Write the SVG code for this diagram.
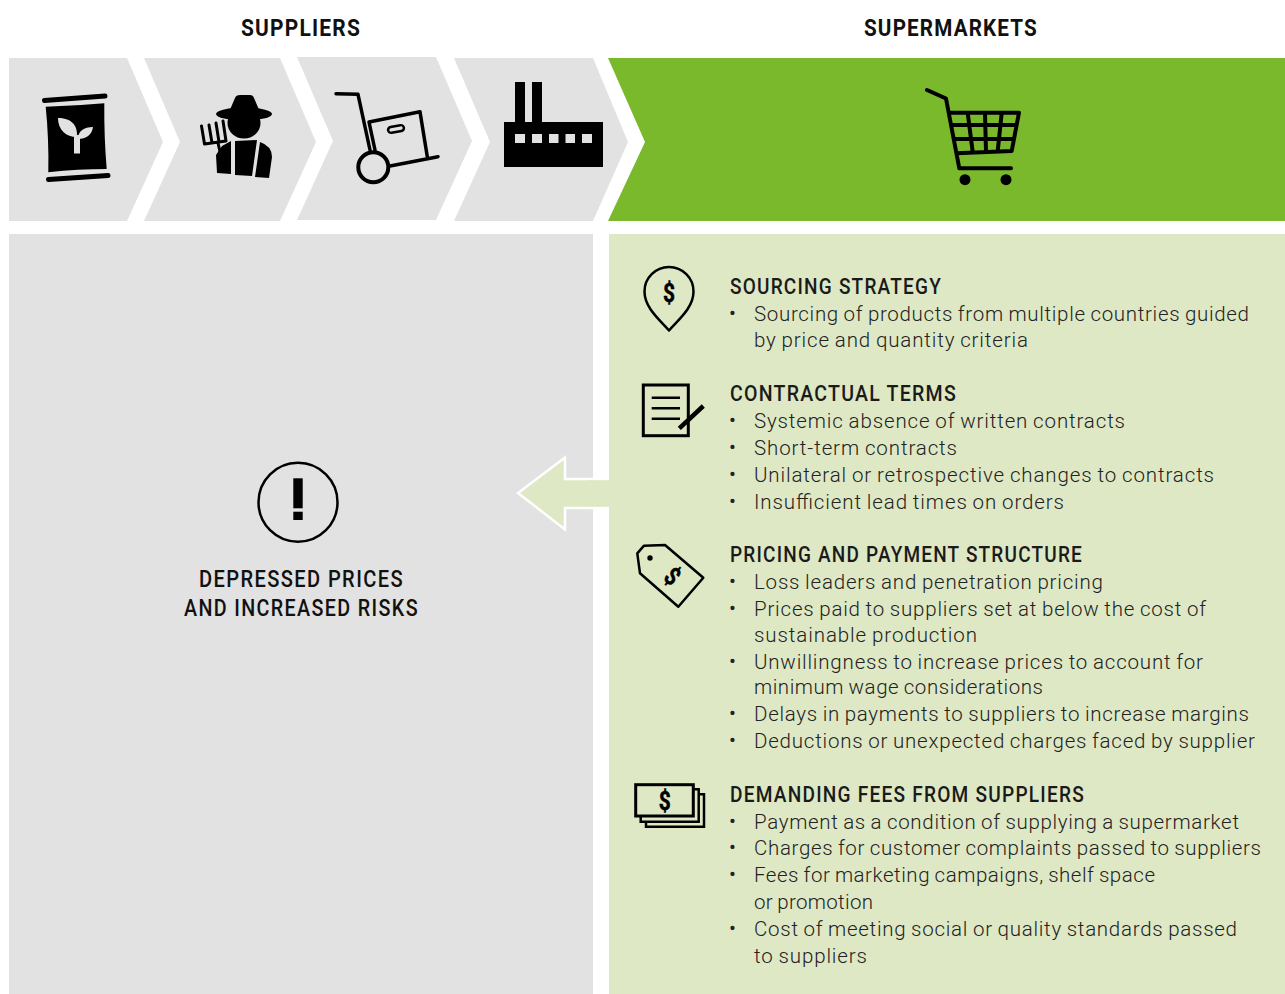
<svg xmlns="http://www.w3.org/2000/svg" width="1285" height="994" viewBox="0 0 1285 994">
<style>
text{font-family:Roboto,"Liberation Sans",sans-serif;}
.hd{font-size:23px;font-weight:700;fill:#111;letter-spacing:1.3px;}
.sub{font-size:23px;font-weight:500;fill:#111;letter-spacing:1.6px;}
.h{font-size:22px;font-weight:500;fill:#1a1a1a;letter-spacing:1.4px;}
.b{font-size:20.5px;font-weight:300;fill:#222;word-spacing:-1px;}
.bu{font-size:20.5px;font-weight:400;fill:#222;}
.d{font-size:25px;font-weight:700;fill:#000;stroke:#000;stroke-width:.5px;text-anchor:middle;}
.g{fill:#e2e2e2;}
.ln{fill:none;stroke:#000;stroke-linecap:round;stroke-linejoin:round;}
.sq{fill:none;stroke:#000;stroke-linejoin:miter;}
</style>
<rect width="1285" height="994" fill="#fff"/>
<text class="hd" x="241" y="36" textLength="120" lengthAdjust="spacingAndGlyphs">SUPPLIERS</text>
<text class="hd" x="864" y="36" textLength="174" lengthAdjust="spacingAndGlyphs">SUPERMARKETS</text>

<g id="step-seeds">
<polygon class="g" points="9,58 127,58 163,142 127,221 9,221"/>
<path d="M45.700,106.700 Q75,106 104.300,103.300 Q104,137 106.700,169 Q78,169 48.300,172.300 Q49,139 45.700,106.700Z" fill="#000"/>
<path class="ln" stroke-width="5" d="M44.500,100.500 L105,96 M48.500,179.500 L108,175.500"/>
<path class="g" d="M58,118 C70,118 78,124 77,137 C66,137 58,130 58,118Z M93,127 C92,135 86,139 78,139 C78,131 84,127 93,127Z"/>
<rect class="g" x="74" y="135" width="6" height="18.500"/>
</g>

<g id="step-farmer">
<polygon class="g" points="144,58 280,58 316,142 280,221 144,221 180,142"/>
<ellipse cx="244" cy="114" rx="28" ry="6.500"/>
<path d="M229,112 L235,98 Q236,95 240,95 L250,95 Q253,95 254,98 L260,112Z"/>
<ellipse cx="244" cy="123" rx="16.500" ry="15.500"/>
<path d="M217,173 L216,155 L222,146 L231,141 L231,174Z M235,141 L257,140 L252,176 L235,175Z M260,142 Q272,146 272,157 L269,178 L255,177Z"/>
<path class="ln" stroke-width="3" d="M201.500,126 L204.500,144 L226,141 L223,121 M209,125 L212,143 M216,123 L219,142 M218,143 L221,156"/>
</g>

<g id="step-trolley">
<polygon class="g" points="297,57 436,57 472,141 436,220 297,220 333,141"/>
<path class="ln" stroke-width="3.500" d="M336,93.700 L358,94.300 L370,150 M369,122 L420,111.700 L427.300,156.700 M369,122 L375,150 M390,166 L438,156.700"/>
<circle cx="373.300" cy="167.300" r="15" fill="none" stroke="#000" stroke-width="4"/>
<rect x="388" y="126" width="16" height="6" rx="3" transform="rotate(-10 396 129)" fill="none" stroke="#000" stroke-width="2.500"/>
</g>

<g id="step-factory">
<polygon class="g" points="454,58 593,58 628,142 593,221 454,221 490,142"/>
<path d="M515,82 H525 V122 H532 V82 H542 V122 H603 V167 H504 V122 H515Z"/>
<path class="g" d="M515,134 h10 v9 h-10Z M532,134 h10 v9 h-10Z M549,134 h9.500 v9 h-9.500Z M565.500,134 h9.500 v9 h-9.500Z M582,134 h10 v9 h-10Z"/>
</g>

<g id="step-supermarket">
<polygon fill="#7ab92c" points="608,58 1285,58 1285,221 608,221 645,142"/>
<path class="ln" stroke-width="4" d="M927,90 L946,98.500 L959.300,168.300 H1011 M950,112.700 H1019 L1011.700,151 L956.700,153.300 M952.700,125 H1016.700 M955,139 H1014 M967.700,113 L972.700,152 M985,113 L986,152 M1001.700,113 L997.700,151"/>
<circle cx="965" cy="179.700" r="5.500"/>
<circle cx="1006" cy="179.700" r="5.500"/>
</g>

<g id="panel-suppliers">
<rect class="g" x="9" y="234" width="584" height="760"/>
<circle cx="298" cy="502.300" r="39.500" fill="none" stroke="#000" stroke-width="2.500"/>
<rect x="293.300" y="478.300" width="9.400" height="30"/>
<rect x="293.300" y="511.700" width="9.400" height="8.300"/>
<text class="sub" x="199" y="587" textLength="205" lengthAdjust="spacingAndGlyphs">DEPRESSED PRICES</text>
<text class="sub" x="184" y="616" textLength="235" lengthAdjust="spacingAndGlyphs">AND INCREASED RISKS</text>
</g>

<g id="panel-supermarkets">
<rect x="609" y="234" width="676" height="760" fill="#dee8c5"/>
</g>

<g id="connectors">
<path d="M593,479 H565 V457.500 L518,493 L565,529.500 V508 H593" fill="#dee8c5" stroke="#fff" stroke-width="2.500"/>
<rect x="590" y="480.200" width="20" height="26.600" fill="#dee8c5"/>
</g>

<g id="sourcing">
<path class="ln" stroke-width="2.500" d="M669,330.500 C660,320 644.500,308 644.500,291.500 A24.500,24.500 0 0 1 693.500,291.500 C693.500,308 678,320 669,330.500Z"/>
<text class="d" x="669" y="302" textLength="12" lengthAdjust="spacingAndGlyphs">$</text>
<text class="h" x="730" y="294" textLength="212" lengthAdjust="spacingAndGlyphs">SOURCING STRATEGY</text>
<text class="bu" x="729" y="320">•</text>
<text class="b" x="754" y="321" textLength="495" lengthAdjust="spacing">Sourcing of products from multiple countries guided</text>
<text class="b" x="754" y="347" textLength="274" lengthAdjust="spacing">by price and quantity criteria</text>
</g>

<g id="contractual">
<rect class="sq" x="643.300" y="385" width="45" height="50.700" stroke-width="3"/>
<path class="sq" stroke-width="2.500" d="M651.700,397.700 H680 M651.700,408.300 H680 M651.700,418.700 H680"/>
<path d="M679.300,428.300 L703.300,406" fill="none" stroke="#000" stroke-width="4.500"/>
<text class="h" x="730" y="401" textLength="227" lengthAdjust="spacingAndGlyphs">CONTRACTUAL TERMS</text>
<text class="bu" x="729" y="427">•</text>
<text class="b" x="754" y="428" textLength="371" lengthAdjust="spacing">Systemic absence of written contracts</text>
<text class="bu" x="729" y="454">•</text>
<text class="b" x="754" y="455" textLength="203" lengthAdjust="spacing">Short-term contracts</text>
<text class="bu" x="729" y="481">•</text>
<text class="b" x="754" y="482" textLength="460" lengthAdjust="spacing">Unilateral or retrospective changes to contracts</text>
<text class="bu" x="729" y="508">•</text>
<text class="b" x="754" y="509" textLength="310" lengthAdjust="spacing">Insufficient lead times on orders</text>
</g>

<g id="pricing">
<path class="ln" stroke-width="2.500" d="M637.300,553.300 L644,545.700 L665,545 L703.300,577.700 L678.300,606.700 L640,573.300Z"/>
<circle cx="650" cy="558" r="2.700"/>
<text class="d" x="0" y="0" transform="translate(672.700,576) rotate(40) translate(0,9)" textLength="12" lengthAdjust="spacingAndGlyphs">$</text>
<text class="h" x="730" y="562" textLength="353" lengthAdjust="spacingAndGlyphs">PRICING AND PAYMENT STRUCTURE</text>
<text class="bu" x="729" y="588">•</text>
<text class="b" x="754" y="589" textLength="349" lengthAdjust="spacing">Loss leaders and penetration pricing</text>
<text class="bu" x="729" y="615">•</text>
<text class="b" x="754" y="616" textLength="452" lengthAdjust="spacing">Prices paid to suppliers set at below the cost of</text>
<text class="b" x="754" y="642" textLength="223" lengthAdjust="spacing">sustainable production</text>
<text class="bu" x="729" y="668">•</text>
<text class="b" x="754" y="669" textLength="449" lengthAdjust="spacing">Unwillingness to increase prices to account for</text>
<text class="b" x="754" y="694" textLength="289" lengthAdjust="spacing">minimum wage considerations</text>
<text class="bu" x="729" y="720">•</text>
<text class="b" x="754" y="721" textLength="495" lengthAdjust="spacing">Delays in payments to suppliers to increase margins</text>
<text class="bu" x="729" y="747">•</text>
<text class="b" x="754" y="748" textLength="501" lengthAdjust="spacing">Deductions or unexpected charges faced by supplier</text>
</g>

<g id="fees">
<path class="sq" stroke-width="2.500" d="M693.300,789.300 H698.700 V821.700 H640.700 V816 M698.700,794.300 H704 V826.700 H646 V821.700"/>
<rect class="sq" x="635.700" y="784.700" width="57.600" height="31.300" stroke-width="3"/>
<text class="d" x="664.700" y="809.500" textLength="12" lengthAdjust="spacingAndGlyphs">$</text>
<text class="h" x="730" y="802" textLength="355" lengthAdjust="spacingAndGlyphs">DEMANDING FEES FROM SUPPLIERS</text>
<text class="bu" x="729" y="828">•</text>
<text class="b" x="754" y="829" textLength="485" lengthAdjust="spacing">Payment as a condition of supplying a supermarket</text>
<text class="bu" x="729" y="854">•</text>
<text class="b" x="754" y="855" textLength="507" lengthAdjust="spacing">Charges for customer complaints passed to suppliers</text>
<text class="bu" x="729" y="881">•</text>
<text class="b" x="754" y="882" textLength="401" lengthAdjust="spacing">Fees for marketing campaigns, shelf space</text>
<text class="b" x="754" y="909" textLength="119" lengthAdjust="spacing">or promotion</text>
<text class="bu" x="729" y="935">•</text>
<text class="b" x="754" y="936" textLength="483" lengthAdjust="spacing">Cost of meeting social or quality standards passed</text>
<text class="b" x="754" y="963" textLength="113" lengthAdjust="spacing">to suppliers</text>
</g>
</svg>
